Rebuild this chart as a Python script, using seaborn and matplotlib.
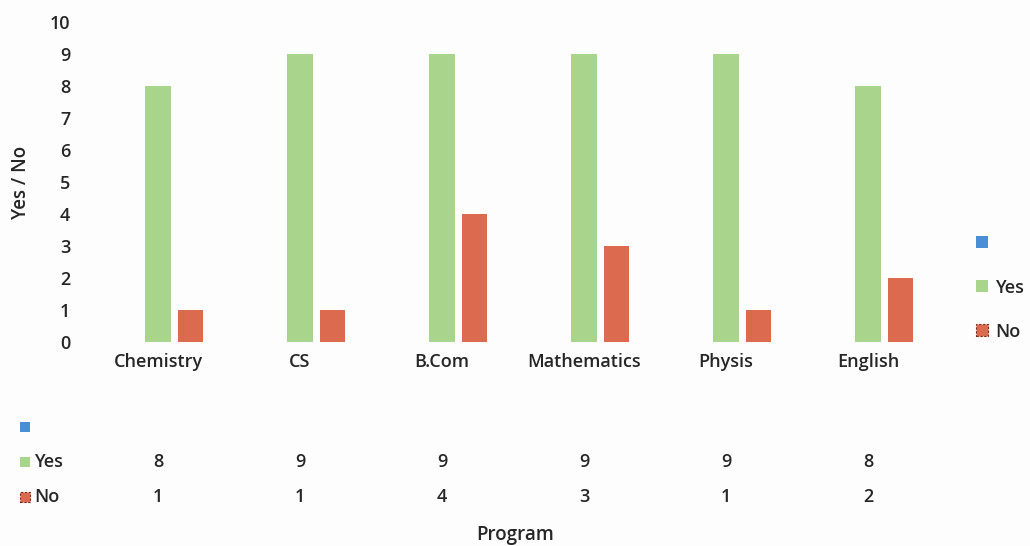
import numpy as np
import pandas as pd
import matplotlib
matplotlib.use("Agg")
import matplotlib.pyplot as plt
import seaborn as sns
from matplotlib.patches import Rectangle
from matplotlib.transforms import blended_transform_factory

programs = ["Chemistry", "CS", "B.Com", "Mathematics", "Physis", "English"]
series_names = ["", "Yes", "No"]
blank_values = [np.nan] * 6
yes_values = [8, 9, 9, 9, 9, 8]
no_values = [1, 1, 4, 3, 1, 2]
y_ticks = [0, 1, 2, 3, 4, 5, 6, 7, 8, 9, 10]

colors = {"": "#4a8fd6", "Yes": "#a9d48c", "No": "#dc6a4e"}
text_color = "#262626"
fs = 13
fw = "semibold"

df = pd.DataFrame({
    "Program": programs * 3,
    "Series": [s for s in series_names for _ in programs],
    "Value": blank_values + yes_values + no_values,
})

sns.set_theme(style="white")
plt.rcParams["font.family"] = ["Open Sans", "DejaVu Sans"]
plt.rcParams["font.weight"] = fw

fig = plt.figure(figsize=(10.3, 5.46), dpi=100)
fig.patch.set_facecolor("#fdfdfd")
ax = fig.add_axes([0.0845, 0.3736, 0.8272, 0.5861])
ax.set_facecolor("#fdfdfd")

sns.barplot(data=df, x="Program", y="Value", hue="Series", order=programs,
            hue_order=series_names, palette=colors, width=0.68, gap=0.22,
            errorbar=None, ax=ax, legend=False, linewidth=0, saturation=1)

# dashed dark edge on "No" bars
for cont in ax.containers:
    if cont.get_label() == "No":
        for p in cont:
            p.set_edgecolor("#7a2a1c")
            p.set_linestyle((0, (2, 1.5)))
            p.set_linewidth(1.0)

ax.set_ylim(0, 10)
ax.set_xlim(-0.5, len(programs) - 0.5)
ax.set_yticks(y_ticks)
ax.set_yticklabels([str(t) for t in y_ticks])
for s in ax.spines.values():
    s.set_visible(False)
ax.tick_params(axis="both", length=0, labelsize=fs, labelcolor=text_color)
ax.tick_params(axis="y", pad=12)
ax.tick_params(axis="x", pad=8)
for lbl in ax.get_xticklabels() + ax.get_yticklabels():
    lbl.set_fontweight(fw)
ax.set_xlabel("")
ax.set_ylabel("Yes / No", fontsize=fs + 0.5, color=text_color, fontweight=fw)
ax.yaxis.set_label_coords(-0.066, 0.5)

# right legend
handles = []
for name in series_names:
    handles.append(Rectangle((0, 0), 1, 1, facecolor=colors[name],
                             edgecolor="#7a2a1c" if name == "No" else "none",
                             linestyle=(0, (2, 1.5)), linewidth=0.8))
leg = ax.legend(handles, series_names, loc="center left",
                bbox_to_anchor=(1.035, 0.17), frameon=False,
                prop={"size": fs, "weight": fw},
                handlelength=0.65, handleheight=0.65, handletextpad=0.4,
                labelspacing=1.45, borderaxespad=0)
for t in leg.get_texts():
    t.set_color(text_color)

# data table
trans = blended_transform_factory(ax.transData, fig.transFigure)
row_y = {"": 1 - 427 / 546, "Yes": 1 - 462 / 546, "No": 1 - 497 / 546}
row_vals = {"": blank_values, "Yes": yes_values, "No": no_values}
for name in series_names:
    y = row_y[name]
    fig.patches.append(Rectangle((0.0195, y - 0.0095), 0.0095, 0.018,
                                 transform=fig.transFigure, facecolor=colors[name],
                                 edgecolor="#7a2a1c" if name == "No" else "none",
                                 linestyle=(0, (2, 1.5)), linewidth=0.8))
    fig.text(0.0335, y, name, ha="left", va="center", fontsize=fs,
             color=text_color, fontweight=fw)
    for i, v in enumerate(row_vals[name]):
        if not np.isnan(v):
            fig.text(i, y, f"{int(v)}", transform=trans, ha="center", va="center",
                     fontsize=fs, color=text_color, fontweight=fw)

fig.text(0.5, 1 - 535 / 546, "Program", ha="center", va="center",
         fontsize=fs + 0.5, color=text_color, fontweight=fw)

fig.savefig("out.png", dpi=100)
